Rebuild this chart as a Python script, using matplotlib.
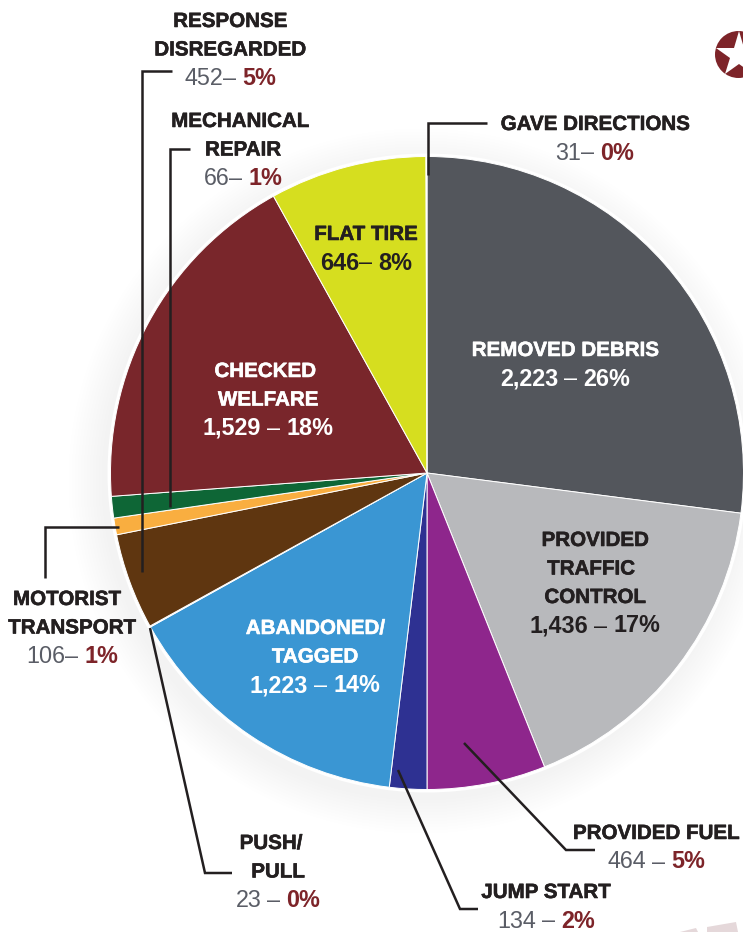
import matplotlib
matplotlib.use("Agg")
import matplotlib.pyplot as plt
import matplotlib.patheffects as pe
from matplotlib.patches import Circle, Polygon

W, H = 743, 932

# slices clockwise from 12 o'clock, share of the circle as drawn (%)
names = ["REMOVED DEBRIS", "PROVIDED TRAFFIC CONTROL", "PROVIDED FUEL", "JUMP START",
         "ABANDONED/ TAGGED", "PUSH/ PULL", "RESPONSE DISREGARDED", "MOTORIST TRANSPORT",
         "MECHANICAL REPAIR", "CHECKED WELFARE", "FLAT TIRE", "GAVE DIRECTIONS"]
shares = [27.0, 16.9, 6.05, 1.9, 15.0, 0.05, 4.9, 0.85, 1.1, 18.1, 8.0, 0.05]
colors = ["#53565c", "#b8b9bc", "#8e268c", "#2e3192", "#3a96d3", "#ffffff",
          "#5f3610", "#f9ae40", "#0e6636", "#79262b", "#d6de1f", "#ffffff"]

# (lines of the label, count, dash, percent, x, y of first line, line colours)
dark = "#231f20"
grey = "#5a5d66"
red = "#7d2429"
white = "#ffffff"
labels = [
    (["RESPONSE", "DISREGARDED"], "452", "– ", "5%", [230, 230], 20, dark, grey, red),
    (["MECHANICAL", "REPAIR"], "66", "– ", "1%", [240, 243], 120, dark, grey, red),
    (["GAVE DIRECTIONS"], "31", "– ", "0%", [595], 123, dark, grey, red),
    (["FLAT TIRE"], "646", "– ", "8%", [366], 233, dark, dark, dark),
    (["REMOVED DEBRIS"], "2,223", " – ", "26%", [565], 349, white, white, white),
    (["CHECKED", "WELFARE"], "1,529", " – ", "18%", [265, 268], 370, white, white, white),
    (["PROVIDED", "TRAFFIC", "CONTROL"], "1,436", " – ", "17%", [595, 591, 595], 539, dark, dark, dark),
    (["ABANDONED/", "TAGGED"], "1,223", " – ", "14%", [315, 315], 627, white, white, white),
    (["MOTORIST", "TRANSPORT"], "106", "– ", "1%", [67, 72], 598, dark, grey, red),
    (["PROVIDED FUEL"], "464", " – ", "5%", [656], 832, dark, grey, red),
    (["JUMP START"], "134", " – ", "2%", [546], 891, dark, grey, red),
    (["PUSH/", "PULL"], "23", " – ", "0%", [271, 278], 842, dark, grey, red),
]

# leader lines in image pixels
leaders = [
    [(141.5, 572), (141.5, 71), (172, 71)],
    [(170, 507), (170, 149), (190, 149)],
    [(45, 578), (45, 527), (119, 527)],
    [(150, 628), (205, 873), (232, 873)],
    [(398, 770), (460, 909), (478, 909)],
    [(464, 743), (566, 850), (595, 850)],
    [(428, 175), (428, 123), (487, 123)],
]

plt.rcParams["font.family"] = ["Liberation Sans", "DejaVu Sans"]

fig = plt.figure(figsize=(W / 100, H / 100), dpi=100)
ax = fig.add_axes([0, 0, 1, 1])


def fy(y):
    return H - y


# soft shadow round the pie, mostly below and to the left
cx, cy, r = 427, 473, 316.5
for i in range(12):
    ax.add_patch(Circle((cx - 6, fy(cy + 8)), r + 36 - i * 3, color="#000000", alpha=0.005, lw=0, zorder=1))
ax.add_patch(Circle((cx, fy(cy)), r + 3, color="white", lw=0, zorder=1.5))

wedges, _ = ax.pie(shares, colors=colors, startangle=90, counterclock=False,
                   center=(cx, fy(cy)), radius=r,
                   wedgeprops=dict(edgecolor="white", linewidth=0.7, zorder=2))
ax.set_xlim(0, W)
ax.set_ylim(0, H)
ax.set_aspect("auto")
ax.axis("off")

for pts in leaders:
    ax.plot([p[0] for p in pts], [fy(p[1]) for p in pts], color=dark, lw=1.8,
            solid_joinstyle="miter", solid_capstyle="butt", zorder=4)

renderer = fig.canvas.get_renderer()


def mixed(x, y, parts):
    # one centred line made of differently coloured pieces
    items = []
    total = 0
    for s, c, w in parts:
        t = ax.text(0, fy(y), s.strip(), color=c, fontweight=w, fontsize=16.8, va="center", ha="left", zorder=5)
        wid = t.get_window_extent(renderer).width
        pad = 6 if s.startswith(" ") else 0
        pad2 = 6 if s.endswith(" ") else 0
        items.append((t, total + pad))
        total += pad + wid + pad2
    for t, off in items:
        t.set_x(x - total / 2 + off)


for lines, count, dash, pct, xs, y0, c1, c2, c3 in labels:
    y = y0 + 1.5
    for line, x in zip(lines, xs):
        t = ax.text(x, fy(y), line, color=c1, fontweight="bold", fontsize=14.8,
                    ha="center", va="center", zorder=5)
        t.set_path_effects([pe.withStroke(linewidth=0.4, foreground=c1)])
        y += 28.5
    w2 = "bold" if c2 != grey else "normal"
    mixed(xs[-1], y, [(count, c2, w2), (dash, c2, "normal"), (pct, c3, "bold")])

# star badge top right
ax.add_patch(Circle((738.5, fy(54.5)), 23.5, color=red, lw=0, zorder=3))
ax.plot([738.5], [fy(55)], marker="*", ms=34.5, color="white", mew=0, zorder=4)

# faint stripes at the bottom edge
ax.add_patch(Polygon([(707, fy(932)), (738, fy(932)), (736, fy(922)), (707, fy(927))], color="#e5d8da", lw=0))
ax.add_patch(Polygon([(680, fy(932)), (698, fy(932)), (696, fy(928))], color="#e5d8da", lw=0))

fig.savefig("out.png", dpi=100)
